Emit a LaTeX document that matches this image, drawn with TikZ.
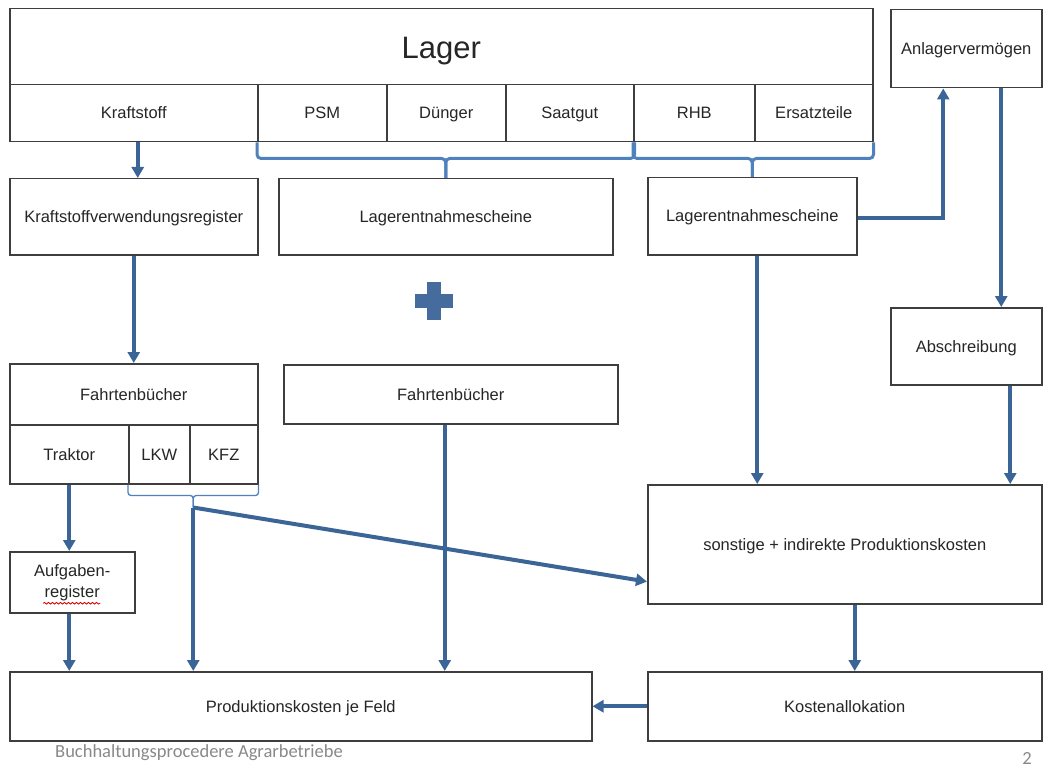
\documentclass[tikz,border=0pt]{standalone}
\usepackage{fontspec}
\setmainfont{Liberation Sans}
\newfontfamily\footfont{Carlito}
\usetikzlibrary{arrows.meta,calc,decorations.pathmorphing}
\definecolor{frame}{RGB}{62,62,62}
\definecolor{ink}{RGB}{38,38,38}
\definecolor{flow}{RGB}{59,100,151}
\definecolor{bracec}{RGB}{79,129,189}
\definecolor{foot}{RGB}{137,137,137}

\begin{document}
\begin{tikzpicture}[x=1pt,y=-1pt,
  box/.style={draw=frame, line width=1.5pt, fill=white, inner sep=0pt,
    anchor=north west, text=ink, align=center,
    font=\fontsize{16.5}{21}\selectfont},
  cell/.style={box, text height=15pt, text depth=3.5pt},
  flowarrow/.style={draw=flow, line width=4pt,
    -{Triangle[width=12pt,length=11pt]}},
  bracebig/.style={draw=bracec, line width=3pt, rounded corners=4pt},
  bracesmall/.style={draw=bracec, line width=1.3pt, rounded corners=3pt},
  footer/.style={text=foot, inner sep=0pt, font=\footfont\fontsize{18.5}{20}\selectfont}]

\useasboundingbox[fill=white] (0,0) rectangle (1043,767);

% warehouse block with its stock categories
\node[box, minimum width=863pt, minimum height=76pt, text height=26pt, text depth=3pt,
      font=\fontsize{31}{36}\selectfont] (lager) at (9,8) {Lager};
\node[cell, minimum width=248pt, minimum height=57pt] (kraftstoff) at (9,84) {Kraftstoff};
\node[cell, minimum width=129pt, minimum height=57pt] (psm) at (257,84) {PSM};
\node[cell, minimum width=119pt, minimum height=57pt] (duenger) at (386,84) {Dünger};
\node[cell, minimum width=128pt, minimum height=57pt] (saatgut) at (505,84) {Saatgut};
\node[cell, minimum width=121pt, minimum height=57pt] (rhb) at (633,84) {RHB};
\node[cell, minimum width=118pt, minimum height=57pt] (ersatz) at (754,84) {Ersatzteile};

\node[cell, minimum width=151pt, minimum height=78pt] (anlage) at (890,9) {Anlagervermögen};

% registers and withdrawal slips
\node[cell, minimum width=248pt, minimum height=76pt] (kvr) at (9,178) {Kraftstoffverwendungsregister};
\node[cell, minimum width=334pt, minimum height=76pt] (lent1) at (278,178) {Lagerentnahmescheine};
\node[cell, minimum width=209pt, minimum height=77pt] (lent2) at (647,177) {Lagerentnahmescheine};
\node[cell, minimum width=151pt, minimum height=77pt] (absch) at (890,307) {Abschreibung};

% log books
\node[cell, minimum width=248pt, minimum height=61pt] (fahrt1) at (9,363) {Fahrtenbücher};
\node[cell, minimum width=119pt, minimum height=59pt] (traktor) at (9,424) {Traktor};
\node[cell, minimum width=61pt, minimum height=59pt] (lkw) at (128,424) {LKW};
\node[cell, minimum width=68pt, minimum height=59pt] (kfz) at (189,424) {KFZ};
\node[cell, minimum width=334pt, minimum height=59pt] (fahrt2) at (283,364) {Fahrtenbücher};

\node[cell, minimum width=394pt, minimum height=119pt] (sonst) at (647,484) {sonstige + indirekte Produktionskosten};
\node[box, minimum width=125pt, minimum height=61pt] (aufg) at (9,551) {Aufgaben-\\register};

% results
\node[cell, minimum width=582pt, minimum height=69pt] (prod) at (9,671) {Produktionskosten je Feld};
\node[cell, minimum width=394pt, minimum height=69pt] (kosten) at (647,671) {Kostenallokation};

% spell-check underline below "register"
\draw[red!85!black, line width=0.8pt,
      decorate, decoration={snake, amplitude=0.9pt, segment length=4pt}]
  ($(aufg.center)+(-29,21)$) -- ($(aufg.center)+(28,21)$);

% braces grouping the stock categories
\draw[bracebig] (psm.south west) -- ++(0,16) -| (lent1.north);
\draw[bracebig] (saatgut.south east) -- ++(0,16) -| (lent1.north);
\draw[bracebig] (rhb.south west) -- ++(0,16) -| (lent2.north);
\draw[bracebig] (ersatz.south east) -- ++(0,16) -| (lent2.north);

% brace grouping LKW and KFZ
\coordinate (bt) at ($($(lkw.south west)!0.5!(kfz.south east)$)+(0,23)$);
\draw[bracesmall] (lkw.south west) -- ++(0,11) -| (bt);
\draw[bracesmall] (kfz.south east) -- ++(0,11) -| (bt);

% plus sign between the slip boxes
\fill[flow!95!white] (427,282) rectangle (441,320);
\fill[flow!95!white] (415,294) rectangle (453,308);

% flows
\draw[flowarrow] ([xshift=4pt]kraftstoff.south) -- ([xshift=4pt]kraftstoff.south |- kvr.north);
\draw[flowarrow] (kvr.south) -- (fahrt1.north);
\draw[flowarrow] (traktor.south) -- (traktor.south |- aufg.north);
\draw[flowarrow] (traktor.south |- aufg.south) -- (traktor.south |- prod.north);
\draw[flowarrow] (bt) -- (bt |- prod.north);
\draw[flowarrow] (bt) -- ($(sonst.south west)!0.19!(sonst.north west)$);
\draw[flowarrow] ([xshift=-6pt]fahrt2.south) -- ([xshift=-6pt]fahrt2.south |- prod.north);
\draw[flowarrow] ([xshift=5pt]lent2.south) -- ([xshift=5pt]lent2.south |- sonst.north);
\draw[flowarrow] ([yshift=-2pt]lent2.east) -| ([xshift=-23pt]anlage.south);
\draw[flowarrow] ([xshift=35pt]anlage.south) -- ([xshift=35pt]anlage.south |- absch.north);
\draw[flowarrow] ([xshift=44pt]absch.south) -- ([xshift=44pt]absch.south |- sonst.north);
\draw[flowarrow] ([xshift=10pt]sonst.south) -- ([xshift=10pt]sonst.south |- kosten.north);
\draw[flowarrow] (kosten.west) -- (prod.east);

% slide footer
\node[footer, anchor=west] (foottext) at (55,753) {Buchhaltungsprocedere Agrarbetriebe};
\node[footer, anchor=center] (pagenum) at (1027,758) {2};
\end{tikzpicture}
\end{document}
